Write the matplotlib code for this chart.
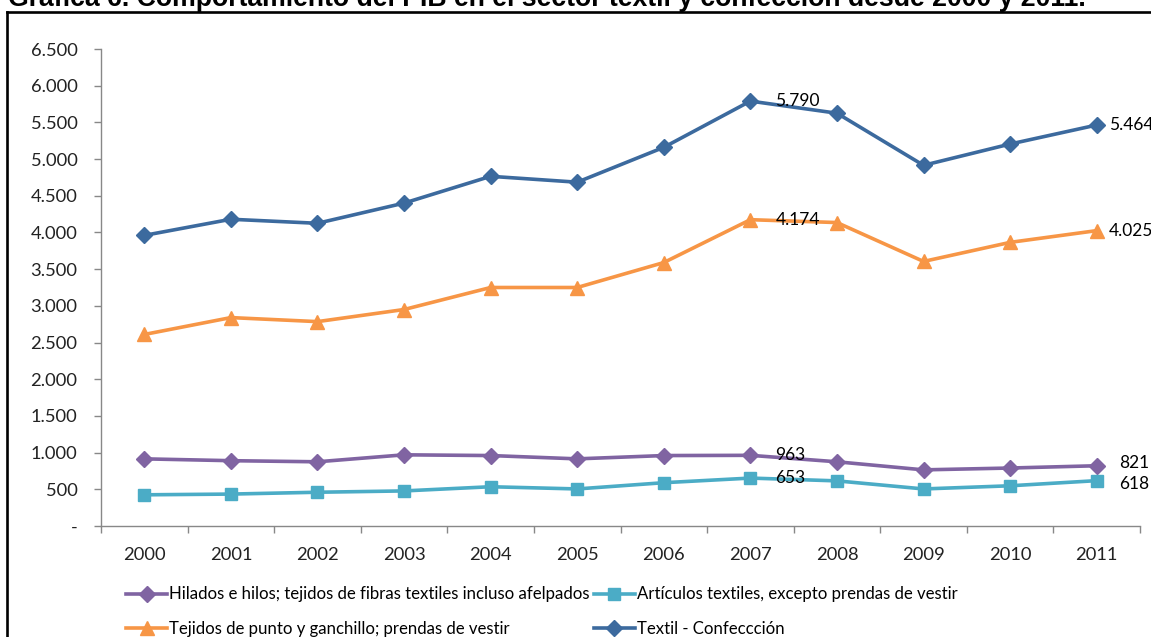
import matplotlib
matplotlib.use("Agg")
from matplotlib import pyplot as plt
from matplotlib.lines import Line2D

years = ["2000", "2001", "2002", "2003", "2004", "2005",
         "2006", "2007", "2008", "2009", "2010", "2011"]

textil = [3960, 4180, 4125, 4400, 4765, 4685, 5160, 5790, 5625, 4915, 5205, 5464]
tejidos = [2610, 2840, 2785, 2950, 3250, 3250, 3590, 4174, 4135, 3605, 3865, 4025]
hilados = [915, 890, 875, 970, 960, 915, 960, 963, 875, 765, 790, 821]
articulos = [425, 435, 460, 478, 535, 505, 590, 653, 615, 505, 548, 618]

yticks = [0, 500, 1000, 1500, 2000, 2500, 3000, 3500, 4000, 4500, 5000, 5500, 6000, 6500]
ytick_labels = ["-", "500", "1.000", "1.500", "2.000", "2.500", "3.000", "3.500",
                "4.000", "4.500", "5.000", "5.500", "6.000", "6.500"]

title = "Gráfica 6. Comportamiento del PIB en el sector textil y confección desde 2000 y 2011."

W, H = 1151, 637
fig = plt.figure(figsize=(W / 100, H / 100), dpi=100)
fig.patch.set_facecolor("white")

ax = fig.add_axes([101 / W, 1 - 526 / H, 1039 / W, 477 / H])

x = list(range(len(years)))

series = [
    ("Hilados e hilos; tejidos de fibras textiles incluso afelpados", hilados, "#8064A2", "D", 8),
    ("Tejidos de punto y ganchillo; prendas de vestir", tejidos, "#F79646", "^", 10),
    ("Artículos textiles, excepto prendas de vestir", articulos, "#4BACC6", "s", 9),
    ("Textil - Confeccción", textil, "#3C6A9E", "D", 8),
]

handles = []
for name, vals, color, marker, ms in series:
    line, = ax.plot(x, vals, color=color, lw=2.6, marker=marker, ms=ms,
                    markeredgecolor=color, label=name, zorder=3)
    handles.append(line)

# data labels (2007 and 2011)
label_font = dict(family="Lato", fontsize=12.5, color="black")
offsets = {
    (0, 7): (18, 0), (0, 11): (16, 2),
    (1, 7): (18, 0), (1, 11): (9, 0),
    (2, 7): (18, 0), (2, 11): (16, -2.5),
    (3, 7): (18, 0), (3, 11): (9, 0),
}
for (si, xi), off in offsets.items():
    vals = series[si][1]
    ax.annotate(f"{vals[xi]:,}".replace(",", "."), (x[xi], vals[xi]),
                xytext=off, textcoords="offset points",
                ha="left", va="center", zorder=4, **label_font)

ax.set_xlim(-0.5, len(years) - 0.5)
ax.set_ylim(0, 6500)
ax.set_yticks(yticks)
ax.set_yticklabels(ytick_labels, family="Lato", fontsize=13.2, color="#222222")
ax.set_xticks(x)
ax.set_xticklabels(years, family="Lato", fontsize=13.2, color="#222222")
ax.set_xticks([i - 0.5 for i in range(len(years) + 1)], minor=True)
ax.tick_params(axis="x", which="major", length=0, pad=15)
ax.tick_params(axis="x", which="minor", length=5, color="#888888", width=1)
ax.tick_params(axis="y", length=5, color="#888888", width=1, pad=12)

for side in ["top", "right"]:
    ax.spines[side].set_visible(False)
for side in ["left", "bottom"]:
    ax.spines[side].set_color("#888888")
    ax.spines[side].set_linewidth(1)

leg = fig.legend(handles=handles, loc="upper left", bbox_to_anchor=(118 / W, 1 - 578 / H),
                 ncol=2, frameon=False, prop=dict(family="Lato", size=12.1),
                 handlelength=2.4, handletextpad=0.12, columnspacing=0.3,
                 labelspacing=1.12, borderpad=0)

# title, mostly cut off at the top edge
fig.text(8 / W, 1 - 6 / H, title, ha="left", va="baseline",
         family="Liberation Sans", fontweight="bold", fontsize=19.2)

# frame around the chart
fig.add_artist(Line2D([6.5 / W, 6.5 / W], [0, 1 - 11.5 / H], transform=fig.transFigure,
                      color="black", lw=1.9))
fig.add_artist(Line2D([6.5 / W, 1], [1 - 11.5 / H, 1 - 11.5 / H], transform=fig.transFigure,
                      color="black", lw=1.9))

fig.savefig("out.png", dpi=100)
